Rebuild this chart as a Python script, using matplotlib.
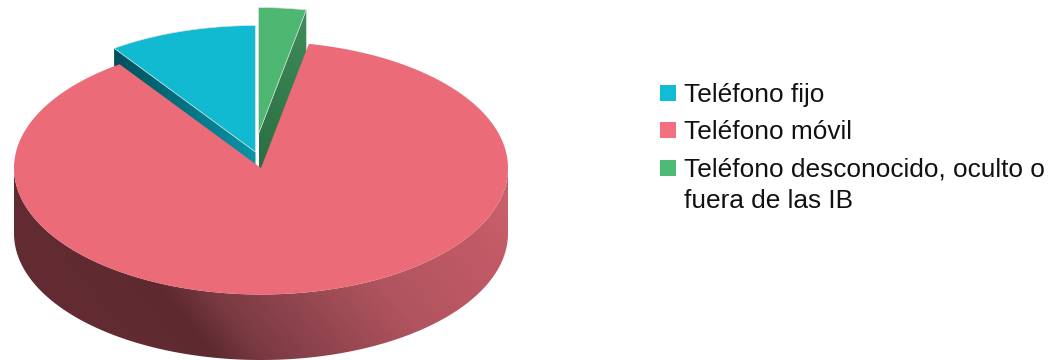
#!/usr/bin/env python3
import numpy as np
import matplotlib
matplotlib.use("Agg")
import matplotlib.pyplot as plt
from matplotlib.colors import LinearSegmentedColormap
from matplotlib.patches import Polygon, Rectangle

labels = ["Teléfono fijo", "Teléfono móvil", "Teléfono desconocido, oculto o\nfuera de las IB"]
shares = [9.7, 87.2, 3.1]
top_colors = ["#11b9d1", "#ec6b78", "#4eb872"]
legend_colors = ["#12bcd6", "#f5707f", "#4fba74"]

# pie geometry in pixels
CX, CY = 261, 168
RX, RY = 247, 126.5
DEPTH = 65.5
OFFSETS = [(-5.5, -16), (0, 0), (-2.5, -34)]


def rim(ang_deg, cx, cy):
    # angles run counter-clockwise from the top of the ellipse
    a = np.deg2rad(ang_deg)
    return np.column_stack([cx - RX*np.sin(a), cy - RY*np.cos(a)])


def gradient_wall(ax, poly, stops, tilt=0.0):
    """Fill a polygon with a left-to-right shaded gradient."""
    x0, y0 = poly.min(axis=0)
    x1, y1 = poly.max(axis=0)
    gx, gy = np.meshgrid(np.linspace(x0, x1, 400), np.linspace(y0, y1, 120))
    t = gx - tilt*(gy - y0)
    t = (t - t.min())/(t.max() - t.min())
    cmap = LinearSegmentedColormap.from_list("wall", stops)
    im = ax.imshow(t, cmap=cmap, vmin=0, vmax=1, extent=(x0, x1, y1, y0), aspect="auto",
                   interpolation="bilinear", zorder=ax.zcount)
    patch = Polygon(poly, closed=True, transform=ax.transData, facecolor="none", edgecolor="none")
    ax.add_patch(patch)
    im.set_clip_path(patch)
    ax.zcount += 1


fig = plt.figure(figsize=(10.64, 3.6), dpi=100)
plt.rcParams["font.family"] = ["Liberation Sans", "DejaVu Sans"]
ax = fig.add_axes([0, 0, 1, 1])
ax.zcount = 1

edges = np.concatenate([[0], np.cumsum(shares)])*3.6
slices = [(i, edges[i], edges[i + 1]) for i in range(len(shares))]

# the two pulled-out slices sit behind the big one
cut_stops = {
    0: [(0.0, "#00505c"), (1.0, "#0a95a8")],
    2: [(0.0, "#266a3e"), (1.0, "#3f8c5a")],
}
for i, a0, a1 in [slices[2], slices[0]]:
    cx = CX + OFFSETS[i][0]
    cy = CY + OFFSETS[i][1]
    # shaded cut face on the side towards the viewer
    a_cut = a1 if i == 0 else a0
    p = rim([a_cut], cx, cy)[0]
    face = np.array([p, [cx, cy], [cx, cy + DEPTH], [p[0], p[1] + DEPTH]])
    if i == 2:
        # lighter towards the rim, which is up and to the right here
        gradient_wall(ax, face, cut_stops[i], tilt=1.0)
    else:
        gradient_wall(ax, face, cut_stops[i])
    arc = rim(np.linspace(a0, a1, 60), cx, cy)
    top = np.vstack([[cx, cy], arc])
    ax.add_patch(Polygon(top, closed=True, facecolor=top_colors[i], edgecolor="#dfe4e4",
                         linewidth=0.5, zorder=ax.zcount))
    ax.zcount += 1

# outer wall of the big slice, front half only
front = rim(np.linspace(90, 270, 200), CX, CY)
wall = np.vstack([front, (front + [0, DEPTH])[::-1]])
gradient_wall(ax, wall, [(0.0, "#662d33"), (0.315, "#5e2a30"), (0.39, "#7a3a42"),
                         (0.66, "#b0545f"), (0.87, "#c25a66"), (1.0, "#cc646f")], tilt=0.8)

_, a0, a1 = slices[1]
arc = rim(np.linspace(a0, a1, 400), CX, CY)
ax.add_patch(Polygon(np.vstack([[CX, CY], arc]), closed=True, facecolor=top_colors[1],
                     edgecolor="none", zorder=ax.zcount))

# legend
swatch_y = [85, 122, 160]
baseline_y = [102, 139, 177]
for label, color, sy, by in zip(labels, legend_colors, swatch_y, baseline_y):
    ax.add_patch(Rectangle((660, sy), 16, 16, facecolor=color, edgecolor="none", zorder=20))
    for n, line in enumerate(label.split("\n")):
        ax.text(684, by + 31*n, line, fontsize=18.9, color="#111111", va="baseline", ha="left", zorder=20)

ax.set_xlim(0, 1064)
ax.set_ylim(360, 0)
ax.axis("off")
fig.savefig("out.png", dpi=100)
plt.close(fig)
